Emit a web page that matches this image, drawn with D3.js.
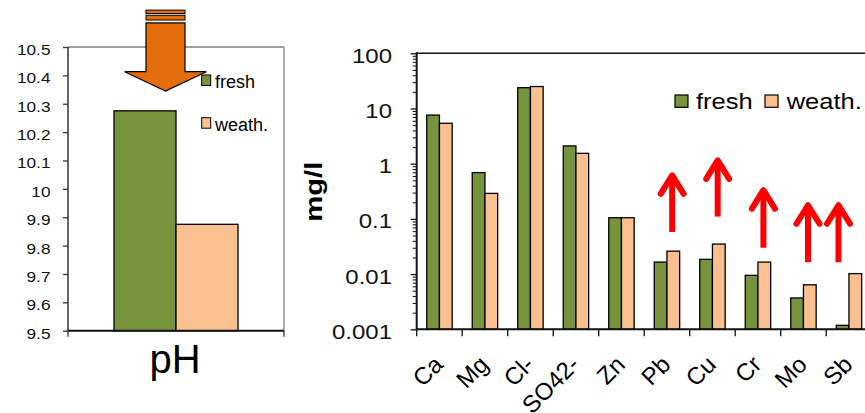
<!DOCTYPE html>
<html>
<head>
<meta charset="utf-8">
<script src="https://cdn.jsdelivr.net/npm/d3@7/dist/d3.min.js"></script>
<style>
  html, body { margin: 0; padding: 0; background: #fff; }
  svg { display: block; font-family: "Liberation Sans", Arial, sans-serif; }
</style>
</head>
<body>
<svg id="chart" width="865" height="413"></svg>
<script>
// ---------- data ----------
const series = ["fresh", "weath."];
const phCategories = ["pH"];
const phFresh = [10.275];
const phWeath = [9.875];
const phTicks = [9.5, 9.6, 9.7, 9.8, 9.9, 10, 10.1, 10.2, 10.3, 10.4, 10.5];

const categories = ["Ca", "Mg", "Cl-", "SO42-", "Zn", "Pb", "Cu", "Cr", "Mo", "Sb"];
const freshValues = [7.6, 0.69, 23.8, 2.1, 0.105, 0.0165, 0.0185, 0.0095, 0.0037, 0.00118];
const weathValues = [5.4, 0.29, 25, 1.54, 0.105, 0.026, 0.035, 0.0165, 0.0064, 0.0102];
const logTicks = [0.001, 0.01, 0.1, 1, 10, 100];
const logTickLabels = ["0.001", "0.01", "0.1", "1", "10", "100"];

// increase annotations (red arrows): category, from value, to value, position in band
const increaseArrows = [
  { cat: "Pb", from: 0.058, to: 0.67, pos: 0.615 },
  { cat: "Cu", from: 0.11, to: 1.25, pos: 0.615 },
  { cat: "Cr", from: 0.030, to: 0.36, pos: 0.62 },
  { cat: "Mo", from: 0.0164, to: 0.192, pos: 0.60 },
  { cat: "Sb", from: 0.0164, to: 0.192, pos: 0.27 }
];
// decrease annotation (orange arrow) on pH panel, in pH units
const decreaseArrow = { top: 10.585, headBase: 10.413, tip: 10.345 };

const colors = { "fresh": "#77933c", "weath.": "#fac090" };

const svg = d3.select("#chart");

// ---------- left panel: pH ----------
const L = { left: 68, right: 284, top: 47, bottom: 330.7 };
const xPh = d3.scaleBand().domain(phCategories).range([L.left, L.right]).padding(0);
const xPhSub = d3.scaleBand().domain(series).range([0, xPh.bandwidth()]).paddingInner(0).paddingOuter(0.742);
const yPh = d3.scaleLinear().domain([9.5, 10.5]).range([L.bottom, L.top]);

const left = svg.append("g");
left.append("line").attr("x1", L.left).attr("x2", L.right).attr("y1", L.top).attr("y2", L.top)
  .attr("stroke", "#808080").attr("stroke-width", 1.3);
left.append("line").attr("x1", L.right).attr("x2", L.right).attr("y1", L.top).attr("y2", L.bottom)
  .attr("stroke", "#808080").attr("stroke-width", 1.3);

const phRows = phCategories.map((c, i) => ({ cat: c, vals: [phFresh[i], phWeath[i]] }));
phRows.forEach(r => {
  left.selectAll(null).data(series.map((s, j) => ({ s, v: r.vals[j] }))).enter().append("rect")
    .attr("x", d => xPh(r.cat) + xPhSub(d.s))
    .attr("width", xPhSub.bandwidth())
    .attr("y", d => yPh(d.v))
    .attr("height", d => yPh(9.5) - yPh(d.v))
    .attr("fill", d => colors[d.s])
    .attr("stroke", "#000").attr("stroke-width", 1.3);
});

const SXL = 1.15;
const yPhAxis = d3.axisLeft(yPh).tickValues(phTicks).tickFormat(d3.format("")).tickSize(5).tickPadding(12.5);
const gyL = left.append("g").attr("transform", `translate(${L.left},0)`).call(yPhAxis);
gyL.selectAll(".tick line").attr("stroke", "#333").attr("stroke-width", 1.3);
gyL.selectAll(".tick text").attr("font-size", 15).attr("fill", "#111").attr("dy", "0.5em")
  .attr("font-family", "Liberation Sans, Arial, sans-serif")
  .attr("x", -17.5 / SXL).attr("transform", `scale(${SXL},1)`);
gyL.select(".domain").remove();
left.append("line").attr("x1", L.left).attr("x2", L.left).attr("y1", L.top).attr("y2", L.bottom)
  .attr("stroke", "#333").attr("stroke-width", 1.5);

left.append("line").attr("x1", L.left).attr("x2", L.right).attr("y1", L.bottom).attr("y2", L.bottom)
  .attr("stroke", "#111").attr("stroke-width", 2);
[L.left, L.right].forEach(xx => left.append("line").attr("x1", xx).attr("x2", xx)
  .attr("y1", L.bottom).attr("y2", L.bottom + 6).attr("stroke", "#333").attr("stroke-width", 1.3));
left.append("text").attr("x", xPh("pH") + xPh.bandwidth() / 2 - 1).attr("y", 372.7)
  .attr("text-anchor", "middle").attr("font-size", 40).attr("fill", "#000").text("pH");

// left legend
const legL = left.append("g");
series.forEach((s, i) => {
  const yb = [88.3, 131][i];
  legL.append("rect").attr("x", 201.7).attr("y", yb - 13.3).attr("width", 9).attr("height", 10.5)
    .attr("fill", colors[s]).attr("stroke", "#000").attr("stroke-width", 1);
  legL.append("text").attr("x", 215).attr("y", yb).attr("font-size", 18).attr("fill", "#000").text(s);
});

// orange decrease arrow
const acx = xPh("pH") + xPh.bandwidth() / 2 - 10.5;
const sw = 19.5, hw = 40.8;
const arrowPath = d3.path();
arrowPath.moveTo(acx - sw, yPh(decreaseArrow.top));
arrowPath.lineTo(acx + sw, yPh(decreaseArrow.top));
arrowPath.lineTo(acx + sw, yPh(decreaseArrow.headBase));
arrowPath.lineTo(acx + hw, yPh(decreaseArrow.headBase));
arrowPath.lineTo(acx, yPh(decreaseArrow.tip));
arrowPath.lineTo(acx - hw, yPh(decreaseArrow.headBase));
arrowPath.lineTo(acx - sw, yPh(decreaseArrow.headBase));
arrowPath.closePath();
left.append("rect").attr("x", acx - sw).attr("width", 2 * sw).attr("y", yPh(10.63)).attr("height", yPh(10.618) - yPh(10.63))
  .attr("fill", "#e46c0a").attr("stroke", "#000").attr("stroke-width", 1);
left.append("rect").attr("x", acx - sw).attr("width", 2 * sw).attr("y", yPh(10.612)).attr("height", yPh(10.595) - yPh(10.612))
  .attr("fill", "#e46c0a").attr("stroke", "#000").attr("stroke-width", 1);
left.append("path").attr("d", arrowPath.toString()).attr("fill", "#e46c0a").attr("stroke", "#000").attr("stroke-width", 1.2);

// ---------- right panel: log concentrations ----------
const R = { left: 416.7, top: 53.3, bottom: 329.3 };
const bandW = 45.5;
const x = d3.scaleBand().domain(categories).range([R.left, R.left + bandW * categories.length]).padding(0);
const xSub = d3.scaleBand().domain(series).range([0, x.bandwidth()]).paddingInner(0).paddingOuter(0.79);
const y = d3.scaleLog().domain([0.001, 100]).range([R.bottom, R.top]);

const right = svg.append("g");
right.append("line").attr("x1", R.left).attr("x2", 865).attr("y1", R.top).attr("y2", R.top)
  .attr("stroke", "#111").attr("stroke-width", 1.5);

const rows = categories.map((c, i) => ({ cat: c, vals: [freshValues[i], weathValues[i]] }));
right.selectAll("g.cat").data(rows).enter().append("g").attr("class", "cat")
  .attr("transform", d => `translate(${x(d.cat)},0)`)
  .selectAll("rect").data(d => series.map((s, j) => ({ s, v: d.vals[j] }))).enter().append("rect")
  .attr("x", d => xSub(d.s))
  .attr("width", xSub.bandwidth())
  .attr("y", d => y(d.v))
  .attr("height", d => y(0.001) - y(d.v))
  .attr("fill", d => colors[d.s])
  .attr("stroke", "#000").attr("stroke-width", 1.3);

// y axis (log) with minor ticks
const SX = 1.2;
const minorTicks = [];
for (let e = -3; e < 2; e++) for (let m = 2; m <= 9; m++) minorTicks.push(m * Math.pow(10, e));
const gMinor = right.append("g").attr("transform", `translate(${R.left},0)`)
  .call(d3.axisLeft(y).tickValues(minorTicks).tickFormat("").tickSize(4));
gMinor.select(".domain").remove();
gMinor.selectAll(".tick line").attr("stroke", "#111").attr("stroke-width", 1);

const gy = right.append("g").attr("transform", `translate(${R.left},0)`)
  .call(d3.axisLeft(y).tickValues(logTicks).tickFormat((d, i) => logTickLabels[i]).tickSize(6).tickPadding(18.7));
gy.select(".domain").remove();
gy.selectAll(".tick line").attr("stroke", "#111").attr("stroke-width", 1.3);
gy.selectAll(".tick text").attr("font-size", 20).attr("fill", "#111").attr("dy", "0.45em")
  .attr("font-family", "Liberation Sans, Arial, sans-serif")
  .attr("x", -24.7 / SX).attr("transform", `scale(${SX},1)`);
right.append("line").attr("x1", R.left).attr("x2", R.left).attr("y1", R.top - 1).attr("y2", R.bottom)
  .attr("stroke", "#111").attr("stroke-width", 2);

// x axis
right.append("line").attr("x1", R.left).attr("x2", 865).attr("y1", R.bottom).attr("y2", R.bottom)
  .attr("stroke", "#111").attr("stroke-width", 2);
const boundaries = categories.map(c => x(c));
right.selectAll("line.xt").data(boundaries).enter().append("line").attr("class", "xt")
  .attr("x1", d => d).attr("x2", d => d).attr("y1", R.bottom).attr("y2", R.bottom + 7)
  .attr("stroke", "#111").attr("stroke-width", 1.3);
right.selectAll("text.cl").data(categories).enter().append("text").attr("class", "cl")
  .attr("transform", d => `translate(${x(d) + x.bandwidth() / 2 + 5},366) rotate(-45)`)
  .attr("text-anchor", "end").attr("font-size", 24).attr("fill", "#000").text(d => d);

// y-axis title
right.append("text").attr("transform", `translate(322,191.7) rotate(-90)`)
  .attr("text-anchor", "middle").attr("font-size", 24).attr("font-weight", "bold").attr("fill", "#000")
  .attr("textLength", 60).attr("lengthAdjust", "spacingAndGlyphs").text("mg/l");

// red arrows
const ga = right.append("g").attr("stroke", "#ff0000").attr("stroke-width", 6).attr("fill", "none")
  .attr("stroke-linecap", "round").attr("stroke-linejoin", "round");
increaseArrows.forEach(a => {
  const ax = x(a.cat) + x.bandwidth() * a.pos;
  const y0 = y(a.from), y1 = y(a.to);
  ga.append("line").attr("x1", ax).attr("x2", ax).attr("y1", y0).attr("y2", y1 + 2).attr("stroke-linecap", "butt");
  ga.append("path").attr("d", `M${ax - 11.5},${y1 + 20.5} L${ax},${y1 + 2} L${ax + 11.5},${y1 + 20.5}`);
});

// right legend
const legR = right.append("g");
const legItems = [{ s: "fresh", sq: 675, tx: 696 }, { s: "weath.", sq: 765, tx: 786.7 }];
legItems.forEach(it => {
  legR.append("rect").attr("x", it.sq).attr("y", 95).attr("width", 13).attr("height", 12.3)
    .attr("fill", colors[it.s]).attr("stroke", "#000").attr("stroke-width", 1.2);
  legR.append("text").attr("transform", `translate(${it.tx},109.3) scale(1.16,1)`)
    .attr("font-size", 22).attr("fill", "#000").text(it.s);
});
</script>
</body>
</html>
